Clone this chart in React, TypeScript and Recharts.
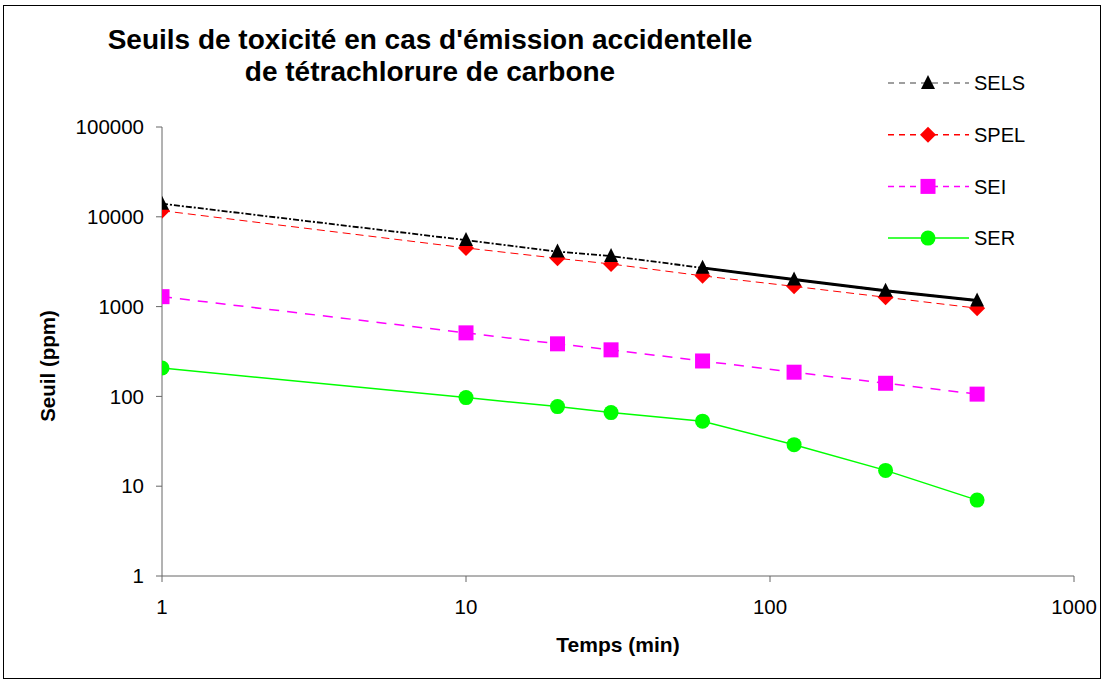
import React from 'react';
import { LineChart, Line, XAxis, YAxis, Legend } from 'recharts';

const times = [1, 10, 20, 30, 60, 120, 240, 480];
const sels = [14000, 5500, 4100, 3650, 2700, 2000, 1500, 1170];
const selsSolid = [null, null, null, null, 2700, 2000, 1500, 1170];
const spel = [11700, 4500, 3450, 2980, 2200, 1680, 1270, 960];
const sei = [1290, 510, 385, 330, 248, 186, 140, 106];
const ser = [207, 97, 77, 66, 53, 29, 15, 7];

const xTicks = [1, 10, 100, 1000];
const yTicks = [1, 10, 100, 1000, 10000, 100000];

const data = times.map((t, i) => ({
  t,
  sels: sels[i],
  selsSolid: selsSolid[i],
  spel: spel[i],
  sei: sei[i],
  ser: ser[i],
}));

const FONT = '"Liberation Sans", Arial, sans-serif';

type Marker = 'triangle' | 'diamond' | 'square' | 'circle';

function markerShape(kind: Marker, cx: number, cy: number, color: string, key?: string | number) {
  if (kind === 'triangle') {
    return <path key={key} d={`M${cx},${cy - 8} L${cx + 7},${cy + 6} L${cx - 7},${cy + 6} Z`} fill={color} />;
  }
  if (kind === 'diamond') {
    return <path key={key} d={`M${cx},${cy - 8} L${cx + 8},${cy} L${cx},${cy + 8} L${cx - 8},${cy} Z`} fill={color} />;
  }
  if (kind === 'square') {
    return <rect key={key} x={cx - 7.5} y={cy - 7.5} width={15} height={15} fill={color} />;
  }
  return <circle key={key} cx={cx} cy={cy} r={7.5} fill={color} />;
}

const makeDot = (kind: Marker, color: string) => (props: any) => {
  const { cx, cy, index } = props;
  if (cx == null || cy == null) return <g key={index} />;
  return markerShape(kind, cx, cy, color, index);
};

const legendItems = [
  { name: 'SELS', line: '#808080', dash: '6 5', marker: 'triangle' as Marker, color: '#000000' },
  { name: 'SPEL', line: '#FF0000', dash: '6 5', marker: 'diamond' as Marker, color: '#FF0000' },
  { name: 'SEI', line: '#FF00FF', dash: '6 5', marker: 'square' as Marker, color: '#FF00FF' },
  { name: 'SER', line: '#00FF00', dash: undefined, marker: 'circle' as Marker, color: '#00FF00' },
];

const renderLegend = () => (
  <svg width={170} height={190}>
    {legendItems.map((it, i) => {
      const y = 13 + i * 51.7;
      return (
        <g key={it.name}>
          <line x1={8} x2={89} y1={y} y2={y} stroke={it.line} strokeWidth={1.5} strokeDasharray={it.dash} />
          {markerShape(it.marker, 48, y, it.color)}
          <text x={94} y={y} dy="0.355em" fontSize={20} fontFamily={FONT} fill="#000">
            {it.name}
          </text>
        </g>
      );
    })}
  </svg>
);

export default function App() {
  return (
    <div style={{ position: 'absolute', left: 0, top: 0, width: 1107, height: 684, background: '#fff' }}>
      <div
        style={{
          position: 'absolute',
          left: 3,
          top: 5,
          width: 1098,
          height: 674,
          border: '1px solid #000',
          boxSizing: 'border-box',
        }}
      />
      <div
        style={{
          position: 'absolute',
          left: 80,
          top: 24,
          width: 700,
          textAlign: 'center',
          fontFamily: FONT,
          fontWeight: 'bold',
          fontSize: 28,
          lineHeight: '32px',
          color: '#000',
        }}
      >
        Seuils de toxicité en cas d'émission accidentelle
        <br />
        de tétrachlorure de carbone
      </div>
      <div
        style={{
          position: 'absolute',
          left: 518,
          top: 633,
          width: 200,
          textAlign: 'center',
          fontFamily: FONT,
          fontWeight: 'bold',
          fontSize: 21,
          color: '#000',
        }}
      >
        Temps (min)
      </div>
      <div
        style={{
          position: 'absolute',
          left: 48,
          top: 366,
          transform: 'translate(-50%, -50%) rotate(-90deg)',
          whiteSpace: 'nowrap',
          fontFamily: FONT,
          fontWeight: 'bold',
          fontSize: 20.5,
          color: '#000',
        }}
      >
        Seuil (ppm)
      </div>
      <div style={{ position: 'absolute', left: 0, top: 0 }}>
        <LineChart width={1107} height={684} data={data} margin={{ top: 127, right: 33, bottom: 78, left: 0 }}>
          <XAxis
            dataKey="t"
            type="number"
            scale="log"
            domain={[1, 1000]}
            ticks={xTicks}
            allowDataOverflow
            height={30}
            stroke="#666"
            tickSize={6}
            tickMargin={17}
            tick={{ fontSize: 20.5, fill: '#000', fontFamily: FONT }}
          />
          <YAxis
            type="number"
            scale="log"
            domain={[1, 100000]}
            ticks={yTicks}
            allowDataOverflow
            width={162}
            stroke="#666"
            tickSize={6}
            tickMargin={12}
            tick={{ fontSize: 20.5, fill: '#000', fontFamily: FONT }}
          />
          <Legend
            layout="vertical"
            align="center"
            verticalAlign="middle"
            content={renderLegend}
            wrapperStyle={{ position: 'absolute', left: 880, top: 70, width: 170, height: 190 }}
          />
          <Line
            dataKey="ser"
            stroke="#00FF00"
            strokeWidth={1.5}
            dot={makeDot('circle', '#00FF00')}
            activeDot={false}
            isAnimationActive={false}
            legendType="none"
          />
          <Line
            dataKey="sei"
            stroke="#FF00FF"
            strokeWidth={1.5}
            strokeDasharray="10 8"
            dot={makeDot('square', '#FF00FF')}
            activeDot={false}
            isAnimationActive={false}
            legendType="none"
          />
          <Line
            dataKey="spel"
            stroke="#FF0000"
            strokeWidth={1}
            strokeDasharray="8 5"
            dot={makeDot('diamond', '#FF0000')}
            activeDot={false}
            isAnimationActive={false}
            legendType="none"
          />
          <Line
            dataKey="sels"
            stroke="#000000"
            strokeWidth={1.8}
            strokeDasharray="6 2 2 2"
            dot={false}
            activeDot={false}
            isAnimationActive={false}
            legendType="none"
          />
          <Line
            dataKey="selsSolid"
            stroke="#000000"
            strokeWidth={3}
            dot={false}
            activeDot={false}
            connectNulls={false}
            isAnimationActive={false}
            legendType="none"
          />
          <Line
            dataKey="sels"
            stroke="none"
            dot={makeDot('triangle', '#000000')}
            activeDot={false}
            isAnimationActive={false}
            legendType="none"
          />
        </LineChart>
      </div>
    </div>
  );
}
